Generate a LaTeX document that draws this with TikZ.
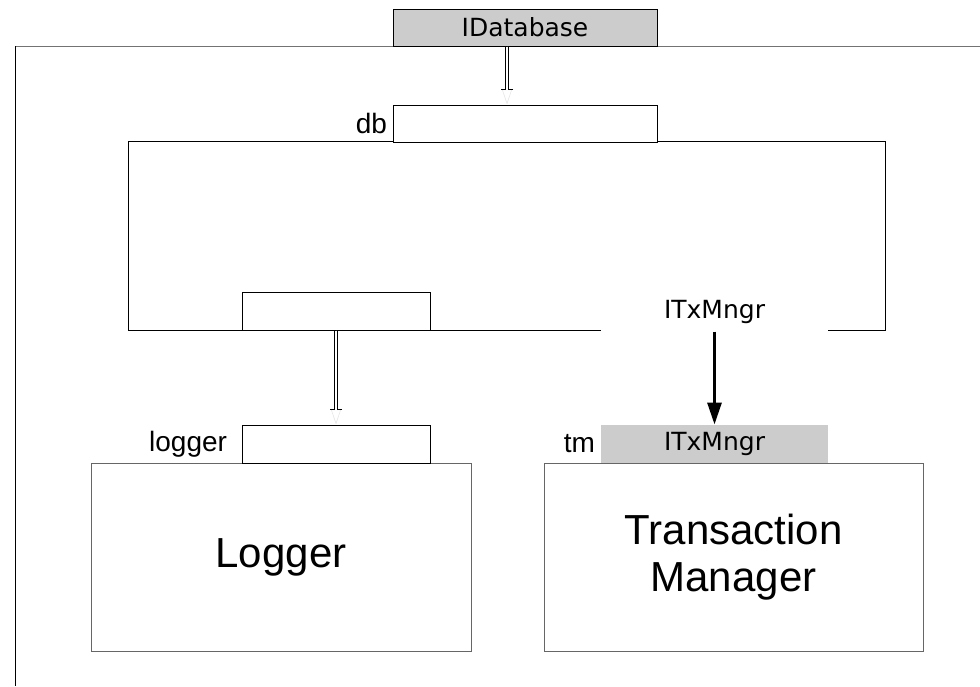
\documentclass[tikz,border=0pt]{standalone}
\usepackage{fontspec}
\setmainfont{Liberation Sans}
\newfontfamily\ifacefont{DejaVu Sans}
\usetikzlibrary{positioning}
\usetikzlibrary{arrows.meta}

\begin{document}
\begin{tikzpicture}[
            x = 1pt, y = -1pt, % picture in pixels, y going down
            line width = 1pt,
            box/.style = {draw, fill = white, inner sep = 0pt},
            lbl/.style = {inner sep = 0pt, font = \fontsize{28}{32}\selectfont},
            iface/.style = {inner sep = 0pt, font = \ifacefont\fontsize{25}{29}\selectfont},
            big/.style = {font = \fontsize{42}{47}\selectfont, align = center},
            delegate/.style = {double, double distance = 2pt, line width = 0.6pt, shorten > = 15pt},
            bartip/.style = {line width = 0.6pt, shorten > = 15pt, -{Bar[width=12pt]}},
            faint/.style = {draw = gray!20, line width = 0.6pt, -{Triangle[open, width=10pt, length=15pt]}}
            ]

        \useasboundingbox (0,0) rectangle (980,686);

        % outer frame
        \draw[black!55] (15,46) -- (980,46);
        \draw (15,46) -- (15,686);

        % provided interface
        \node[box, fill = gray!40, iface, minimum width = 264pt, minimum height = 37pt] (idb) at (525,27.5) {IDatabase};

        % database component
        \node[box, minimum width = 757pt, minimum height = 189pt] (comp) at (506.5,235.5) {};
        \node[box, minimum width = 264pt, minimum height = 37pt] (db) [below = 58pt of idb] {};
        \node[lbl] (dblabel) [left = 5pt of db] {db};
        \node[box, minimum width = 188pt, minimum height = 38pt] (lport) at (336,311) {};
        \node[iface, fill = white, minimum width = 227pt, minimum height = 39pt] (txlabel) at (714.5,311.5) {ITxMngr};

        % logger
        \node[box, draw = black!60, big, minimum width = 380pt, minimum height = 188pt] (logger) at (281,557) {Logger};
        \node[box, minimum width = 188pt, minimum height = 38pt] (logport) at (336,444) {};
        \node[lbl] (loglabel) [left = 14pt of logport] {logger};

        % transaction manager
        \node[box, draw = black!60, big, minimum width = 379pt, minimum height = 188pt] (tmgr) at (733.5,557) {Transaction\\Manager};
        \node[iface, fill = gray!40, minimum width = 227pt, minimum height = 38pt] (tmport) at (714.5,444) {ITxMngr};
        \node[lbl] (tmlabel) [left = 5pt of tmport] {tm};

        % delegations
        \draw[faint] ([xshift=-18pt]idb.south) -- ([xshift=-18pt]db.north);
        \draw[bartip] ([xshift=-18pt]idb.south) -- ([xshift=-18pt]db.north);
        \draw[delegate] ([xshift=-18pt]idb.south) -- ([xshift=-18pt]db.north);

        \draw[faint] (lport.south) -- (logport.north);
        \draw[bartip] (lport.south) -- (logport.north);
        \draw[delegate] (lport.south) -- (logport.north);

        % required interface
        \draw[line width = 3pt, -{Triangle[width=14pt, length=22pt]}] (txlabel.south) -- (tmport.north);

\end{tikzpicture}
\end{document}
